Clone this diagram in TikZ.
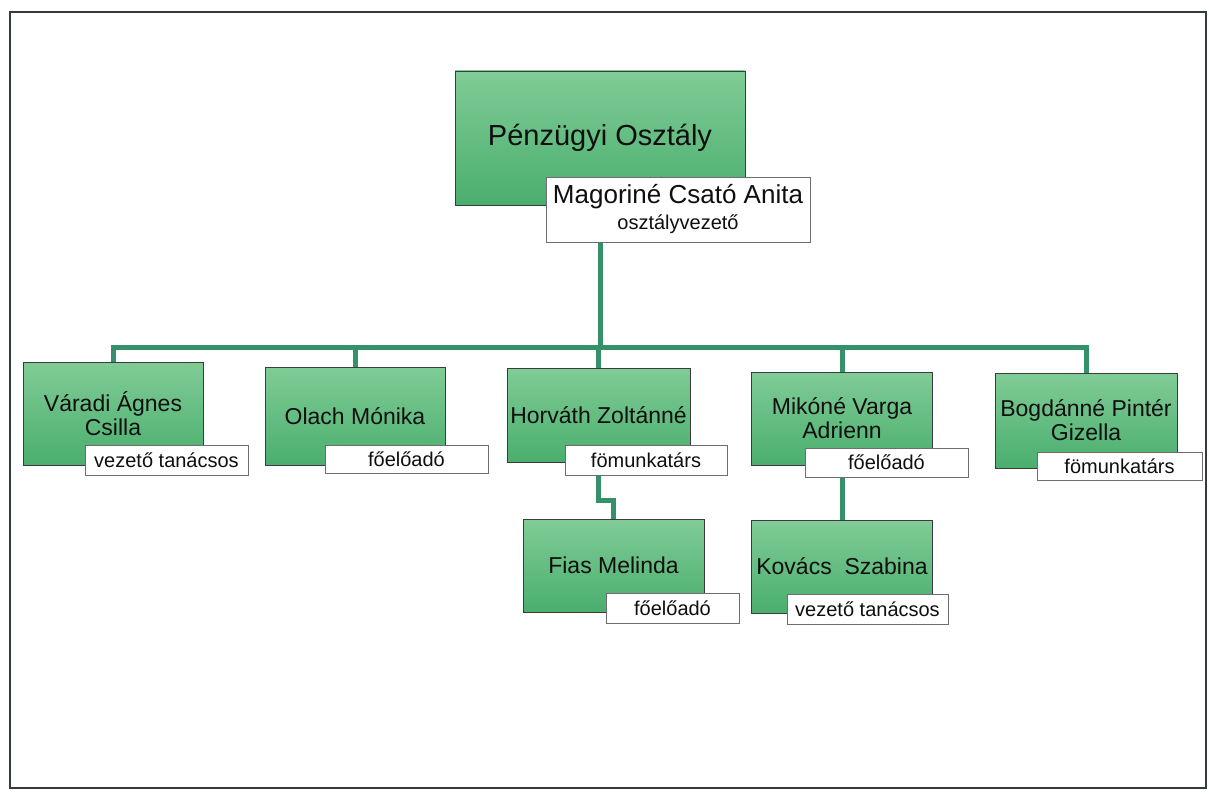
\documentclass[tikz,border=0pt]{standalone}
\usepackage{fontspec}
\setmainfont{Liberation Sans}
\usetikzlibrary{backgrounds}
\definecolor{boxtop}{RGB}{128,204,150}
\definecolor{boxmid}{RGB}{178,226,190}
\definecolor{boxbot}{RGB}{74,174,110}
\definecolor{boxline}{RGB}{60,60,60}
\definecolor{roleline}{RGB}{110,110,110}
\definecolor{linkgreen}{RGB}{52,145,105}
\definecolor{ink}{RGB}{15,15,15}
\definecolor{frame}{RGB}{50,60,60}

\begin{document}
\begin{tikzpicture}[x=1pt,y=-1pt,
    orgbox/.style={draw=boxline,line width=0.8pt,top color=boxtop,middle color=boxmid,bottom color=boxbot,inner sep=0pt,align=center,text=ink,font=\fontsize{23}{24}\selectfont},
    rolebox/.style={draw=roleline,line width=0.8pt,fill=white,inner sep=0pt,text=ink,font=\fontsize{20}{22}\selectfont},
    link/.style={draw=linkgreen,line width=5pt,line cap=rect}]
    \useasboundingbox (0,0) rectangle (1209,794);
    %Frame
    \draw[frame,line width=2pt] (10,12) rectangle (1206,788);
    %Head of department
    \node[orgbox,minimum width=290pt,minimum height=134pt,font=\fontsize{29}{32}\selectfont] (title) at (600,138) {Pénzügyi Osztály};
    \node[rolebox,minimum width=264pt,minimum height=65pt,align=center] (boss) at (678,209.5) {{\fontsize{26}{28}\selectfont Magoriné Csató Anita}\\[4pt]osztályvezető};
    %Staff
    \node[orgbox,minimum width=180pt,minimum height=103pt] (varadi) at (113,413.5) {Váradi Ágnes\\Csilla};
    \node[rolebox,minimum width=163pt,minimum height=30pt] (varadirole) at (166.5,460) {vezető tanácsos};
    \node[orgbox,minimum width=180pt,minimum height=98pt] (olach) at (355,416) {Olach Mónika};
    \node[rolebox,minimum width=163pt,minimum height=28pt] (olachrole) at (406.5,459) {főelőadó};
    \node[orgbox,minimum width=183pt,minimum height=94pt] (horvath) at (598.5,415) {Horváth Zoltánné};
    \node[rolebox,minimum width=162pt,minimum height=30pt] (horvathrole) at (646,460) {fömunkatárs};
    \node[orgbox,minimum width=181pt,minimum height=93pt] (mikone) at (842,418.5) {Mikóné Varga\\Adrienn};
    \node[rolebox,minimum width=163pt,minimum height=29pt] (mikonerole) at (886.5,462.5) {főelőadó};
    \node[orgbox,minimum width=182pt,minimum height=95pt] (bogdanne) at (1086,420.5) {Bogdánné Pintér\\Gizella};
    \node[rolebox,minimum width=165pt,minimum height=28pt] (bogdannerole) at (1119.5,466) {fömunkatárs};
    %Third row
    \node[orgbox,minimum width=181pt,minimum height=93pt] (fias) at (613.5,565.5) {Fias Melinda};
    \node[rolebox,minimum width=133pt,minimum height=30pt] (fiasrole) at (672.5,608) {főelőadó};
    \node[orgbox,minimum width=181pt,minimum height=93pt] (kovacs) at (842,566.5) {Kovács\ \ Szabina};
    \node[rolebox,minimum width=161pt,minimum height=30pt] (kovacsrole) at (867.5,609) {vezető tanácsos};
    %Links
    \begin{scope}[on background layer]
        \coordinate (hub) at (600,347);
        \draw[link] (title.center |- boss.south) -- (hub);
        \draw[link] (hub -| varadi.north) -- (hub -| bogdanne.north);
        \foreach \n in {varadi,olach,horvath,mikone,bogdanne}
            \draw[link] (hub -| \n.north) -- (\n.north);
        \draw[link] (horvath.center |- horvathrole.south) -- ++(0,25) -| (fias.north);
        \draw[link] (kovacs.north |- mikonerole.south) -- (kovacs.north);
    \end{scope}
\end{tikzpicture}
\end{document}
